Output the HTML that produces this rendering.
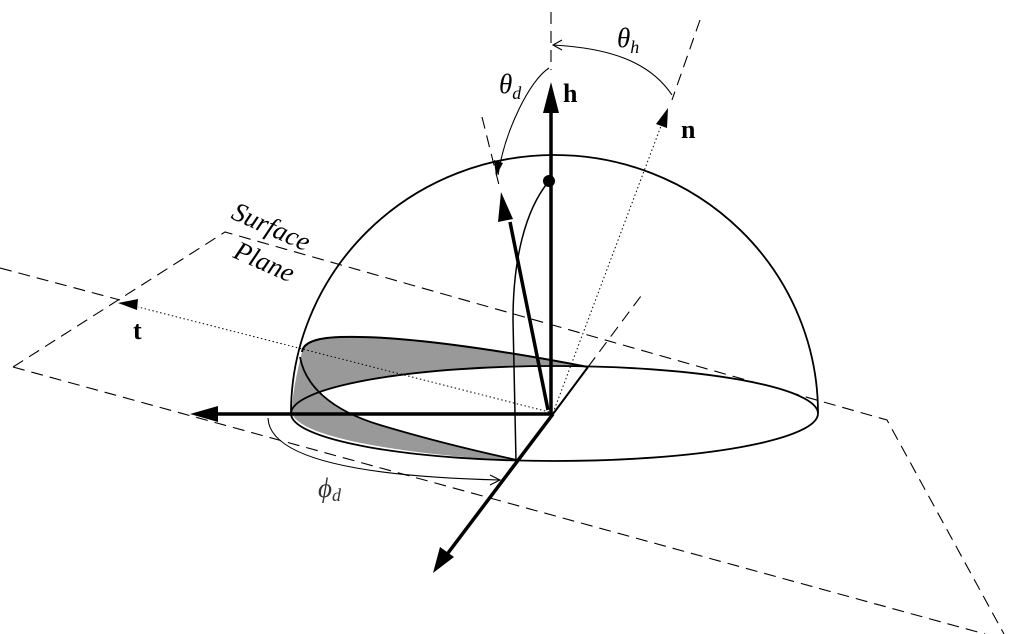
<!DOCTYPE html>
<html><head><meta charset="utf-8"><style>
html,body{margin:0;padding:0;background:#fff;}
svg{display:block;}
text{font-family:"Liberation Serif",serif;}
</style></head><body>
<svg width="1024" height="634" viewBox="0 0 1024 634" xmlns="http://www.w3.org/2000/svg">
<defs>
<clipPath id="ell"><ellipse cx="554.5" cy="413.5" rx="263.5" ry="47.5"/></clipPath>
</defs>
<g fill="none" stroke="#000" stroke-width="1.1" stroke-dasharray="12,7">
<polyline points="13,367 225,232 887,420 1004,634"/>
<line x1="13" y1="367" x2="985" y2="634"/>
<line x1="0" y1="268" x2="120" y2="300"/>
<line x1="588" y1="367" x2="641" y2="296"/>
<line x1="551" y1="12" x2="551" y2="70"/>
<line x1="700" y1="20" x2="672" y2="100"/>
<line x1="482" y1="117" x2="499" y2="185"/>
</g>
<path d="M588,367 C500,350 400,335 340,337 C312,338 303,344 302,352 C297,372 292,395 292,413 C300,440 420,455 515,461 L588,367 Z" fill="#999"/>
<path clip-path="url(#ell)" d="M300,357 C305,385 330,410 380,425 C430,440 480,452 517,460 L830,460 L830,300 L300,300 Z" fill="#fff"/>
<path d="M588,367 C500,350 400,335 340,337 C312,338 303,344 302,352" fill="none" stroke="#000" stroke-width="2"/>
<path d="M300,357 C305,385 330,410 380,425 C430,440 480,452 517,460" fill="none" stroke="#000" stroke-width="1.8"/>
<ellipse cx="554.5" cy="413.5" rx="263.5" ry="47.5" fill="none" stroke="#000" stroke-width="1.8"/>
<path d="M291,413 A263.5,258 0 0 1 818,413" fill="none" stroke="#000" stroke-width="1.8"/>
<path d="M549,181 C525,210 513,260 513,320 L516,461" fill="none" stroke="#000" stroke-width="1.5"/>
<line x1="553" y1="413" x2="138" y2="307" stroke="#000" stroke-width="1" stroke-dasharray="1.5,2.5"/>
<line x1="553" y1="413" x2="664" y2="118" stroke="#000" stroke-width="1" stroke-dasharray="1.5,2.5"/>
<polygon points="118,303 138,299 137,310" fill="#000"/>
<polygon points="668,108 667,128 656,124" fill="#000"/>
<g stroke="#000" stroke-width="3.5" fill="none">
<line x1="553" y1="414" x2="210" y2="414"/>
<line x1="553" y1="414" x2="445" y2="557"/>
<line x1="553" y1="414" x2="588" y2="367" stroke-width="2"/>
<line x1="551" y1="414" x2="551" y2="110"/>
<line x1="548" y1="410" x2="510" y2="222"/>
</g>
<polygon points="190,414 218,406 218,422" fill="#000"/>
<polygon points="433,573 440,547 454,557" fill="#000"/>
<polygon points="551,82 543,113 559,113" fill="#000"/>
<polygon points="501,192 498,222 513,219" fill="#000"/>
<circle cx="549" cy="181" r="6" fill="#000"/>
<g fill="none" stroke="#000" stroke-width="1.1">
<path d="M672,95 C650,62 610,48 553,45"/>
<path d="M562,40 L553,45 L562,50"/>
<path d="M549,68 C530,80 505,130 498,175"/>
<path d="M268,418 C270,470 420,478 500,480"/>
<path d="M490,475 L500,480 L490,485"/>
</g>
<polygon points="496,176 494,160 503,163" fill="#000"/>
<text x="617" y="47" font-size="27" font-style="italic">θ<tspan font-size="18" dy="6">h</tspan></text>
<text x="499" y="93" font-size="27" font-style="italic">θ<tspan font-size="18" dy="6">d</tspan></text>
<text x="563" y="102" font-size="26" font-weight="bold">h</text>
<text x="681" y="138" font-size="26" font-weight="bold">n</text>
<text x="133" y="339" font-size="26" font-weight="bold">t</text>
<text x="318" y="497" font-size="27" font-style="italic" fill="#333">ϕ<tspan font-size="18" dy="4">d</tspan></text>
<text x="230" y="218" font-size="27" font-style="italic" transform="rotate(24 230 218)">Surface</text>
<text x="232" y="257" font-size="27" font-style="italic" transform="rotate(24 232 257)">Plane</text>
</svg>
</body></html>
